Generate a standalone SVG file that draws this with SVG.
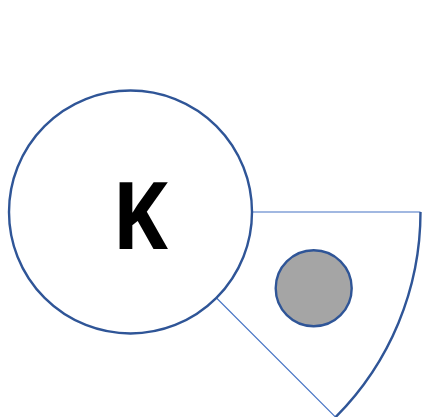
<svg xmlns="http://www.w3.org/2000/svg" width="422" height="417" viewBox="0 0 422 417">
<style>
.ray{stroke:#4472C4;stroke-width:1.2;fill:none}
.arc{stroke:#2F5597;stroke-width:2.4;fill:none}
.node{stroke:#2F5597;stroke-width:2.4}
.lbl{font-family:"Open Sans","DejaVu Sans",sans-serif;font-weight:bold;font-size:93px;fill:#000}
</style>
<rect width="422" height="417" fill="#fff"/>
<g id="connectors">
<path class="ray" d="M130.5,212 L420.5,212"/>
<path class="ray" d="M130.5,212 L335.6,417.1"/>
<path class="arc" d="M420.5,212 A290,290 0 0 1 335.6,417.1"/>
</g>
<g id="node-k">
<circle class="node" cx="130.5" cy="212" r="121.5" fill="#fff"/>
<text class="lbl" x="140" y="248.5" text-anchor="middle" textLength="56" lengthAdjust="spacingAndGlyphs">K</text>
</g>
<g id="node-dot">
<circle class="node" cx="313.7" cy="288.3" r="38" fill="#A5A5A5"/>
</g>
</svg>
